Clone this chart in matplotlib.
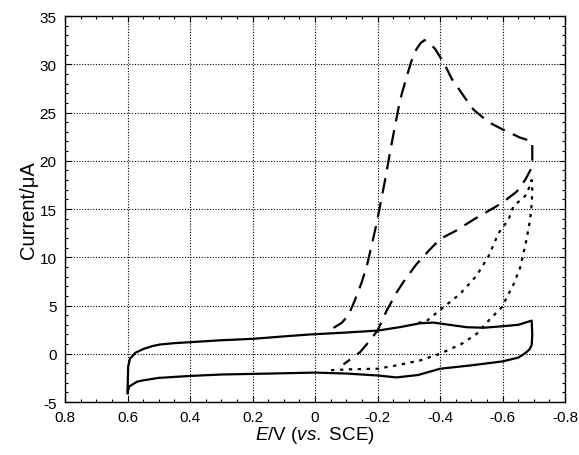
import matplotlib
matplotlib.use("Agg")
from matplotlib import pyplot as plt
from matplotlib.ticker import MultipleLocator

plt.rcParams['font.family'] = ['Liberation Sans', 'DejaVu Sans']
plt.rcParams['mathtext.fontset'] = 'custom'
plt.rcParams['mathtext.rm'] = 'Liberation Sans'
plt.rcParams['mathtext.it'] = 'Liberation Sans:italic'

# background CV (solid)
solid_E = [0.600, 0.598, 0.592, 0.575, 0.549, 0.52, 0.496, 0.45, 0.4, 0.3, 0.198, 0.1, 0.016,
           -0.1, -0.2, -0.27, -0.336, -0.379, -0.43, -0.485, -0.54, -0.6, -0.65, -0.693,
           -0.695, -0.693, -0.686, -0.672, -0.65, -0.6, -0.5, -0.4, -0.33, -0.261, -0.2, -0.1, 0.0,
           0.144, 0.3, 0.4, 0.5, 0.549, 0.57, 0.595, 0.6]
solid_I = [-3.9, -1.3, -0.5, 0.1, 0.5, 0.8, 0.96, 1.1, 1.2, 1.4, 1.55, 1.8, 2.0,
           2.2, 2.4, 2.75, 3.16, 3.23, 3.0, 2.75, 2.7, 2.85, 3.0, 3.43,
           2.0, 0.9, 0.45, 0.05, -0.4, -0.79, -1.2, -1.55, -2.2, -2.45, -2.25, -2.05, -1.95,
           -2.05, -2.15, -2.3, -2.5, -2.75, -2.9, -3.4, -4.1]

# dashed
dash_E = [-0.059, -0.085, -0.107, -0.128, -0.148, -0.165, -0.197, -0.224, -0.245, -0.272,
          -0.293, -0.309, -0.325, -0.338, -0.35, -0.362, -0.384, -0.416, -0.437, -0.48,
          -0.507, -0.555, -0.603, -0.656, -0.695, -0.695, -0.672, -0.645, -0.597, -0.544,
          -0.507, -0.448, -0.4, -0.363, -0.325, -0.288, -0.261, -0.229, -0.2, -0.171,
          -0.144, -0.091]
dash_I = [2.68, 3.2, 4.0, 5.6, 7.3, 9.0, 13.5, 18.0, 21.8, 26.3,
          28.7, 30.4, 31.6, 32.2, 32.5, 32.3, 31.6, 29.9, 28.5, 26.5,
          25.3, 24.0, 23.2, 22.4, 22.0, 19.4, 18.0, 16.8, 15.6, 14.6,
          13.9, 12.7, 11.9, 10.65, 9.3, 7.7, 6.36, 4.46, 2.4, 1.2,
          0.17, -1.1]

# dotted
dot_E = [-0.33, -0.357, -0.41, -0.464, -0.517, -0.555, -0.587, -0.619, -0.635, -0.66,
         -0.677, -0.693, -0.695, -0.693, -0.688, -0.677, -0.656, -0.635, -0.597, -0.56,
         -0.517, -0.469, -0.4, -0.336, -0.261, -0.2, -0.123, -0.048]
dot_I = [3.2, 3.4, 4.8, 6.2, 8.1, 10.1, 12.5, 13.9, 15.3, 16.0,
         16.5, 18.0, 17.0, 15.5, 13.9, 11.9, 8.9, 7.2, 4.8, 3.6,
         2.06, 1.03, 0.0, -0.69, -1.2, -1.55, -1.6, -1.7]

xt = [0.8, 0.6, 0.4, 0.2, 0, -0.2, -0.4, -0.6, -0.8]
xt_labels = ['0.8', '0.6', '0.4', '0.2', '0', '-0.2', '-0.4', '-0.6', '-0.8']
yt = [-5, 0, 5, 10, 15, 20, 25, 30, 35]

fig = plt.figure(figsize=(5.79, 4.56), dpi=100)
ax = fig.add_axes([0.1123, 0.1162, 0.8637, 0.8465])

ax.plot(solid_E, solid_I, color='black', lw=1.6, solid_joinstyle='round')
ax.plot(dash_E, dash_I, color='black', lw=1.6, dashes=(7, 4))
ax.plot(dot_E, dot_I, color='black', lw=1.6, dashes=(1.5, 2.5))

ax.set_xlim(0.8, -0.8)
ax.set_ylim(-5, 35)
ax.set_xticks(xt)
ax.set_xticklabels(xt_labels)
ax.set_yticks(yt)
ax.set_yticklabels([str(v) for v in yt])
ax.xaxis.set_minor_locator(MultipleLocator(0.05))
ax.yaxis.set_minor_locator(MultipleLocator(1))

ax.tick_params(which='both', direction='in', top=True, right=True, labelsize=11, color='black')
ax.tick_params(which='major', length=4, width=0.8, pad=6)
ax.tick_params(which='minor', length=2.5, width=0.8)
ax.grid(True, which='major', color='black', lw=0.8, dashes=(1, 1.5))
for s in ax.spines.values():
    s.set_linewidth(1.0)

ax.set_xlabel(r'$E$/V ($vs.$ SCE)', fontsize=13.5, labelpad=0)
ax.set_ylabel('Current/μA', fontsize=14.5, labelpad=1)

fig.savefig('out.png', dpi=100)
